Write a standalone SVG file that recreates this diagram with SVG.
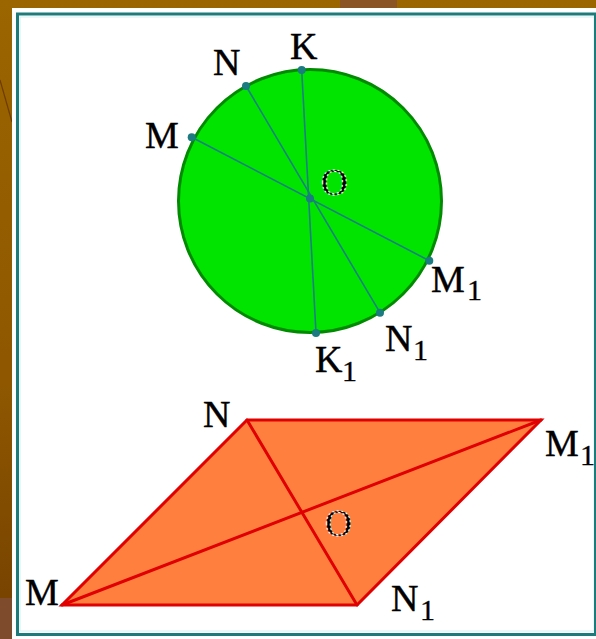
<svg xmlns="http://www.w3.org/2000/svg" width="596" height="639" viewBox="0 0 596 639">
<defs>
<linearGradient id="bg" x1="0" y1="0" x2="0" y2="1">
<stop offset="0" stop-color="#9b6500"/>
<stop offset="0.6" stop-color="#8e5700"/>
<stop offset="0.93" stop-color="#794400"/>
</linearGradient>
<style>
.lbl{font-family:"Liberation Serif","Times New Roman",serif;font-size:38px;fill:#000;stroke:#000;stroke-width:0.4}
.sub{font-family:"Liberation Serif","Times New Roman",serif;font-size:30px;fill:#000;stroke:#000;stroke-width:0.3}
.o{font-family:"Liberation Serif","Times New Roman",serif;font-size:37px;fill:#000;stroke:#fff;stroke-width:1.1;stroke-dasharray:2 2.5}
.chord{stroke:#1b8080;stroke-width:1.6;fill:none}
.dot{fill:#1b7b80}
.red{stroke:#e00000;stroke-width:3;fill:none;stroke-linecap:round}
</style>
</defs>
<rect x="0" y="0" width="596" height="639" fill="url(#bg)"/>
<rect x="0" y="598" width="12" height="41" fill="#7e4c2c"/>
<rect x="340" y="0" width="57" height="8" fill="#8a5424"/>
<line x1="0" y1="80" x2="12" y2="122" stroke="#6e3c00" stroke-width="1.2"/>
<rect x="12" y="8" width="584" height="631" fill="#ffffff"/>
<rect x="20" y="17" width="574" height="614" fill="none" stroke="#d4f0f0" stroke-width="1"/>
<rect x="17.5" y="14" width="578" height="620.5" fill="none" stroke="#1e7b7b" stroke-width="3"/>

<g id="circle-figure">
<circle cx="310" cy="201" r="131.5" fill="#00e400" stroke="#008a00" stroke-width="3"/>
<g id="chords">
<line class="chord" x1="301.7" y1="70" x2="316" y2="333"/>
<line class="chord" x1="246" y1="86" x2="380" y2="312.7"/>
<line class="chord" x1="191.7" y1="137.3" x2="429.3" y2="260.7"/>
</g>
<g id="circle-points">
<circle class="dot" cx="301.7" cy="70" r="4"/>
<circle class="dot" cx="316" cy="333" r="4"/>
<circle class="dot" cx="246" cy="86" r="4"/>
<circle class="dot" cx="380" cy="312.7" r="4"/>
<circle class="dot" cx="191.7" cy="137.3" r="4"/>
<circle class="dot" cx="429.3" cy="260.7" r="4"/>
<circle class="dot" cx="310" cy="198.5" r="4"/>
</g>
<g id="circle-labels">
<text class="lbl" x="290" y="59">K</text>
<text class="lbl" x="213" y="75">N</text>
<text class="lbl" x="145" y="148">M</text>
<text class="o" x="321" y="195">O</text>
<text class="lbl" x="431" y="292">M</text><text class="sub" x="467" y="300">1</text>
<text class="lbl" x="385" y="351">N</text><text class="sub" x="413" y="360">1</text>
<text class="lbl" x="315" y="372">K</text><text class="sub" x="342" y="381">1</text>
</g>
</g>

<g id="parallelogram-figure">
<polygon points="247,420 541,420 357,605 62,605" fill="#ff7f3f" stroke="#e00000" stroke-width="3" stroke-linejoin="miter"/>
<g id="diagonals">
<line class="red" x1="247" y1="420" x2="357" y2="605"/>
<line class="red" x1="62" y1="605" x2="541" y2="420"/>
</g>
<g id="parallelogram-labels">
<text class="lbl" x="203" y="427">N</text>
<text class="o" x="325" y="536">O</text>
<text class="lbl" x="25" y="605">M</text>
<text class="lbl" x="391" y="611">N</text><text class="sub" x="420" y="620">1</text>
<text class="lbl" x="545" y="456">M</text><text class="sub" x="580" y="465">1</text>
</g>
</g>
</svg>
